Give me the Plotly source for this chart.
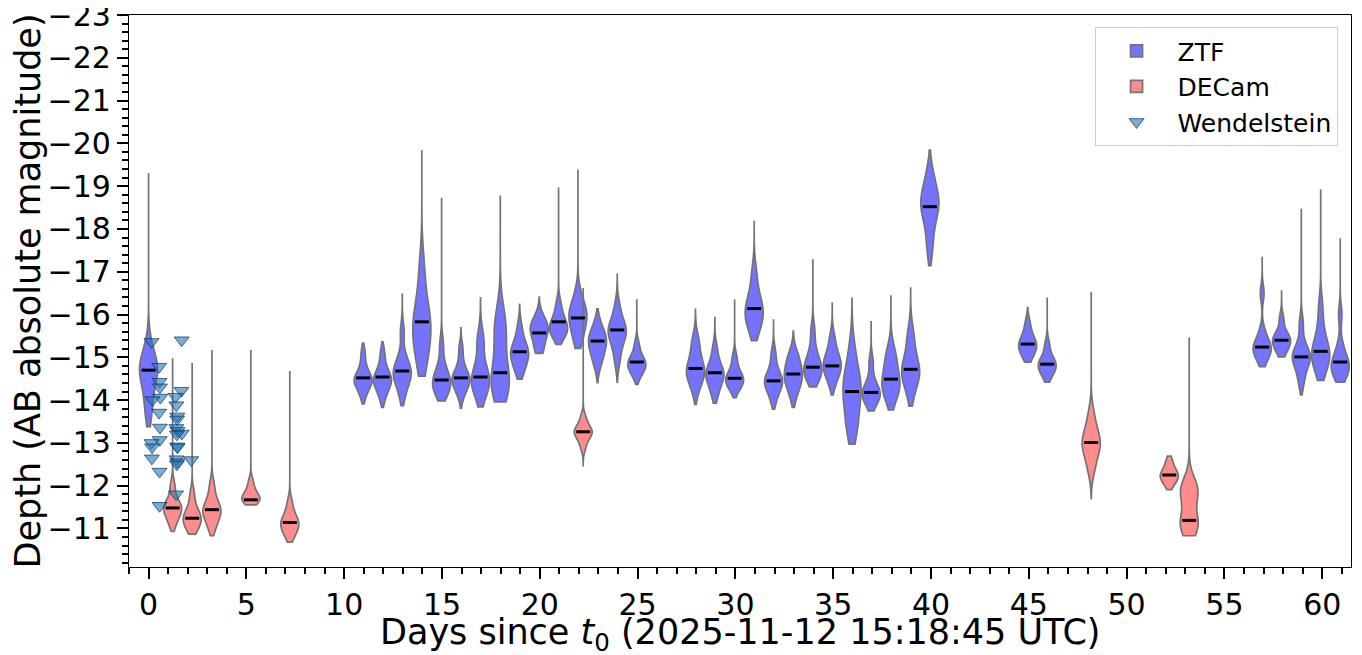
import plotly.graph_objects as go

# ---------------- data ----------------
# ZTF nightly depth distributions
ztf_days = [0.00, 10.97, 11.96, 12.97, 13.97, 14.98, 15.97, 16.97, 17.98, 18.97,
            19.97, 20.96, 21.95, 22.95, 23.96, 24.96, 27.96, 28.95, 29.96, 30.96,
            31.95, 32.96, 33.96, 34.95, 35.96, 36.94, 37.95, 38.96, 39.94, 44.94,
            45.94, 56.93, 57.92, 58.93, 59.92, 60.92]
ztf_lo = [-19.31, -15.33, -15.36, -16.49, -19.84, -18.73, -15.69, -16.39, -18.78, -16.24,
          -16.41, -18.97, -19.39, -16.13, -16.94, -16.36, -16.12, -15.95, -16.35, -18.19,
          -15.89, -15.61, -17.29, -16.29, -16.38, -15.85, -16.45, -16.62, -19.84, -16.16,
          -16.40, -17.35, -16.57, -18.47, -18.93, -17.78]
ztf_hi = [-13.38, -13.91, -13.83, -13.87, -14.56, -13.98, -13.81, -13.84, -13.96, -14.49,
          -15.09, -15.30, -15.21, -14.41, -14.42, -14.37, -13.90, -13.93, -14.06, -15.39,
          -13.79, -13.83, -14.31, -14.12, -12.97, -13.75, -13.77, -13.86, -17.14, -14.89,
          -14.42, -14.78, -15.01, -14.12, -14.46, -14.42]
ztf_median = [-14.70, -14.52, -14.54, -14.68, -15.83, -14.47, -14.52, -14.54, -14.64, -15.13,
              -15.57, -15.83, -15.92, -15.38, -15.64, -14.89, -14.74, -14.64, -14.51, -16.14,
              -14.45, -14.61, -14.77, -14.80, -14.20, -14.18, -14.49, -14.72, -18.52, -15.31,
              -14.84, -15.24, -15.40, -15.01, -15.14, -14.89]
ztf_samples = [
    [-15.30, -15.00, -14.85, -14.78, -14.70, -14.60, -14.45, -14.20, -13.90, -13.60],
    [-15.10, -14.80, -14.62, -14.53, -14.48, -14.44, -14.38, -14.28, -14.10],
    [-15.10, -14.80, -14.62, -14.55, -14.48, -14.43, -14.35, -14.25, -14.05],
    [-15.60, -15.05, -14.85, -14.72, -14.65, -14.58, -14.50, -14.35, -14.10],
    [-17.20, -16.60, -16.20, -15.95, -15.80, -15.65, -15.50, -15.30, -15.00, -14.75],
    [-15.30, -14.85, -14.65, -14.52, -14.45, -14.38, -14.30, -14.20, -14.08],
    [-15.20, -14.85, -14.65, -14.55, -14.50, -14.45, -14.38, -14.28, -14.10],
    [-15.45, -15.30, -14.80, -14.60, -14.52, -14.45, -14.38, -14.25, -14.05],
    [-16.00, -15.75, -15.55, -15.35, -14.75, -14.55, -14.45, -14.35, -14.25, -14.15],
    [-15.70, -15.40, -15.25, -15.15, -15.10, -15.02, -14.92, -14.78, -14.62],
    [-15.95, -15.82, -15.72, -15.64, -15.57, -15.50, -15.22, -15.18],
    [-16.25, -16.00, -15.85, -15.75, -15.70, -15.62, -15.55, -15.45],
    [-16.50, -16.25, -16.10, -16.02, -15.95, -15.85, -15.70, -15.50, -15.35],
    [-15.80, -15.60, -15.48, -15.42, -15.35, -15.28, -15.10, -15.02, -14.80],
    [-16.20, -15.90, -15.75, -15.66, -15.60, -15.52, -15.40, -15.20, -14.90],
    [-15.30, -15.05, -14.95, -14.88, -14.82, -14.76, -14.68, -14.55],
    [-15.40, -15.25, -14.95, -14.80, -14.72, -14.65, -14.58, -14.45, -14.25],
    [-15.20, -14.92, -14.75, -14.66, -14.60, -14.55, -14.45, -14.30, -14.10],
    [-15.00, -14.75, -14.60, -14.52, -14.47, -14.42, -14.35, -14.22],
    [-17.00, -16.60, -16.35, -16.20, -16.10, -16.00, -15.90, -15.75, -15.55],
    [-15.10, -14.80, -14.60, -14.50, -14.45, -14.40, -14.32, -14.20, -14.00],
    [-15.10, -14.95, -14.85, -14.68, -14.58, -14.52, -14.45, -14.30, -14.10],
    [-15.60, -15.15, -14.95, -14.80, -14.72, -14.65, -14.58, -14.45],
    [-15.45, -15.15, -14.98, -14.87, -14.80, -14.72, -14.60, -14.40],
    [-15.20, -14.80, -14.50, -14.35, -14.25, -14.15, -14.00, -13.55, -13.40, -13.25],
    [-14.90, -14.50, -14.30, -14.20, -14.15, -14.10, -14.00, -13.85],
    [-15.20, -14.95, -14.85, -14.60, -14.45, -14.35, -14.28, -14.20, -13.95],
    [-15.60, -15.30, -15.00, -14.80, -14.72, -14.62, -14.55, -14.40, -14.10],
    [-19.30, -19.00, -18.80, -18.65, -18.55, -18.45, -18.30, -17.90, -17.50],
    [-15.80, -15.55, -15.40, -15.32, -15.28, -15.20, -15.10, -14.98],
    [-15.30, -15.05, -14.92, -14.85, -14.80, -14.75, -14.65, -14.52],
    [-16.50, -15.60, -15.35, -15.27, -15.22, -15.15, -15.05, -14.90],
    [-15.90, -15.60, -15.48, -15.42, -15.38, -15.30, -15.20, -15.08],
    [-15.80, -15.35, -15.15, -15.05, -15.00, -14.95, -14.85, -14.65, -14.40],
    [-16.20, -15.70, -15.40, -15.20, -15.12, -15.05, -14.95, -14.80, -14.60],
    [-16.00, -15.30, -15.05, -14.92, -14.85, -14.78, -14.70, -14.60, -14.50],
]

# DECam depth distributions
decam_days = [1.23, 2.23, 3.24, 5.23, 7.22, 22.22, 48.19, 52.18, 53.20]
decam_lo = [-14.98, -14.87, -15.17, -15.17, -14.68, -16.62, -16.53, -12.69, -15.47]
decam_hi = [-10.93, -10.87, -10.83, -11.55, -10.68, -12.47, -11.70, -11.91, -10.83]
decam_median = [-11.48, -11.24, -11.44, -11.67, -11.14, -13.26, -13.01, -12.25, -11.19]
decam_samples = [
    [-12.00, -11.70, -11.55, -11.50, -11.45, -11.38, -11.25, -11.10],
    [-11.80, -11.50, -11.35, -11.28, -11.22, -11.15, -11.05, -10.95],
    [-12.00, -11.70, -11.52, -11.45, -11.40, -11.32, -11.18, -11.00],
    [-12.10, -11.90, -11.80, -11.72, -11.68, -11.64, -11.60],
    [-11.60, -11.35, -11.22, -11.15, -11.10, -11.02, -10.92, -10.80],
    [-13.60, -13.42, -13.32, -13.27, -13.24, -13.18, -13.08, -12.90],
    [-13.70, -13.40, -13.20, -13.08, -13.00, -12.92, -12.80, -12.60, -12.35],
    [-12.60, -12.45, -12.32, -12.27, -12.23, -12.18, -12.10, -12.00],
    [-12.05, -11.95, -11.88, -11.80, -11.72, -11.22, -11.16, -11.10, -11.02, -10.95],
]

# Wendelstein upper limits
wend_days = [0.15, 0.54, 0.56, 0.58, 0.60, 0.20, 0.54, 0.58, 0.57, 0.15, 0.18, 0.17,
             0.56, 0.56, 1.69, 1.68, 1.38, 1.42, 1.47, 1.46, 1.42, 1.48, 1.70, 1.45,
             1.47, 1.48, 1.43, 1.47, 1.45, 2.18, 1.41]
wend_mag = [-15.36, -14.78, -14.43, -14.30, -14.06, -14.00, -13.71, -13.36, -13.07, -13.00,
            -12.90, -12.64, -12.33, -11.53, -15.40, -14.22, -14.08, -13.88, -13.62, -13.55,
            -13.35, -13.28, -13.22, -13.20, -12.92, -12.90, -12.62, -12.55, -12.50, -12.60,
            -11.80]

x_title = "Days since <i>t</i><sub>0</sub> (2025-11-12 15:18:45 UTC)"
y_title = "Depth (AB absolute magnitude)"

# ---------------- styling ----------------
FONT = "DejaVu Sans"
ZTF_FILL = "rgba(0,0,255,0.55)"
DECAM_FILL = "rgba(255,0,0,0.45)"
EDGE = "rgb(115,115,115)"
VW = 0.92

fig = go.Figure()


def add_violins(days, samples, lo, hi, fill, name):
    for i, (d, s, a, b) in enumerate(zip(days, samples, lo, hi)):
        fig.add_trace(go.Violin(
            x=[d] * len(s), y=s, orientation="v",
            name=name, legendgroup=name, showlegend=(i == 0),
            spanmode="manual", span=[a, b],
            width=VW, scalemode="width", points=False,
            fillcolor=fill, line=dict(color=EDGE, width=1.7),
            box_visible=False, meanline_visible=False, hoverinfo="skip",
        ))


add_violins(ztf_days, ztf_samples, ztf_lo, ztf_hi, ZTF_FILL, "ZTF")
add_violins(decam_days, decam_samples, decam_lo, decam_hi, DECAM_FILL, "DECam")

fig.add_trace(go.Scatter(
    x=wend_days, y=wend_mag, mode="markers", name="Wendelstein", legendgroup="Wendelstein",
    marker=dict(symbol="triangle-down", size=13, color="rgba(31,119,180,0.6)",
                line=dict(color="rgba(8,48,107,0.7)", width=1)),
    hoverinfo="skip",
))

for days, med, grp in [(ztf_days, ztf_median, "ZTF"), (decam_days, decam_median, "DECam")]:
    fig.add_trace(go.Scatter(
        x=days, y=med, mode="markers", showlegend=False, legendgroup=grp,
        marker=dict(symbol="line-ew", size=10, line=dict(width=3, color="black")),
        hoverinfo="skip",
    ))

axis_common = dict(
    showline=True, mirror=True, linecolor="black", linewidth=1.2,
    showgrid=False, zeroline=False, automargin=True, ticklabeloverflow="allow",
    ticks="outside", ticklen=11, tickwidth=2, tickcolor="black",
    tickfont=dict(family=FONT, size=30, color="black"),
)

# the page body has an 8px margin: the figure starts at (8, 8) of the window
fig.update_layout(
    template="none",
    width=1354, height=647,
    margin=dict(l=121, r=11, t=7, b=88, autoexpand=False),
    paper_bgcolor="white", plot_bgcolor="white",
    font=dict(family=FONT, color="black"),
    violinmode="overlay",
    xaxis=dict(
        range=[-1.0, 61.47], tickmode="linear", tick0=0, dtick=5,
        minor=dict(dtick=1, tick0=0, ticks="outside", ticklen=6, tickwidth=1.5, tickcolor="black"),
        **axis_common,
    ),
    yaxis=dict(
        range=[-10.1, -23], tickmode="linear", tick0=-23, dtick=1,
        minor=dict(dtick=0.2, tick0=-23, ticks="outside", ticklen=6, tickwidth=1.5, tickcolor="black"),
        title=dict(text=y_title, font=dict(family=FONT, size=35), standoff=2),
        **axis_common,
    ),
    legend=dict(
        x=0.989, y=0.978, xanchor="right", yanchor="top",
        bgcolor="white", bordercolor="#cccccc", borderwidth=1,
        font=dict(family=FONT, size=25), tracegroupgap=0, itemwidth=72,
    ),
    annotations=[dict(
        text=x_title, xref="paper", yref="paper", x=0.5, y=-0.123,
        xanchor="center", yanchor="middle", showarrow=False,
        font=dict(family=FONT, size=35, color="black"),
    )],
)

fig.write_html("out.html")
